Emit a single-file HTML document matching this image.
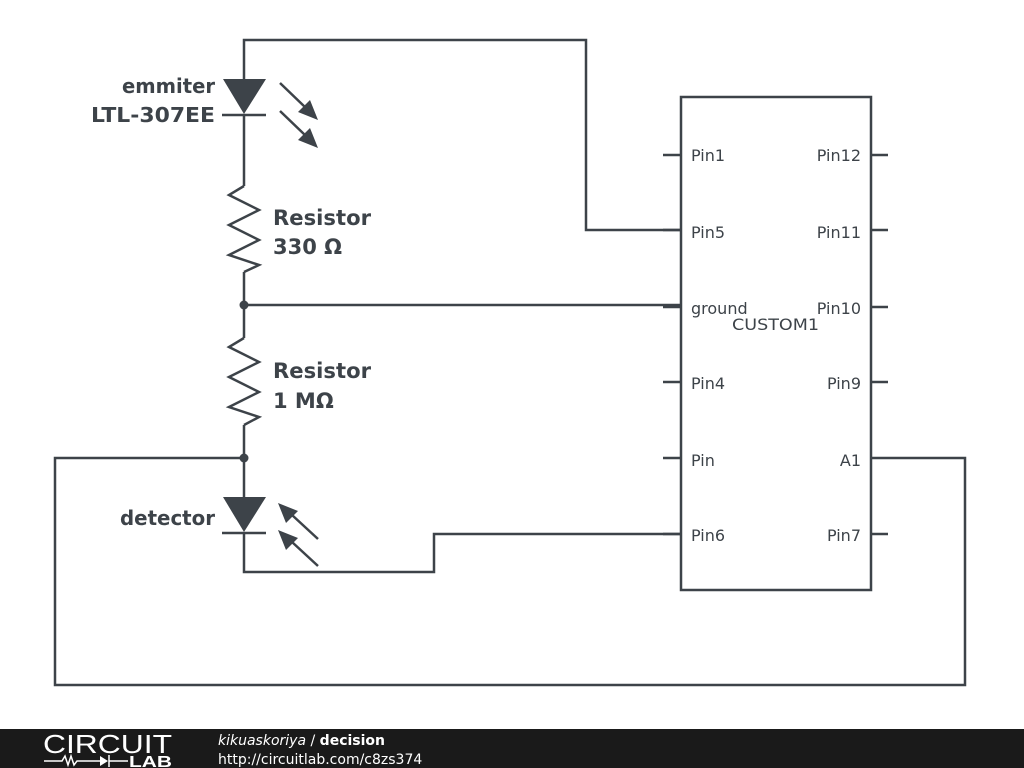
<!DOCTYPE html>
<html><head><style>
body{margin:0;width:1024px;height:768px;background:#fff;overflow:hidden;font-family:"DejaVu Sans",sans-serif}
</style></head><body>
<svg width="1024" height="768" style="position:absolute;left:0;top:0">
<g stroke="#3d4349" stroke-width="2.5" fill="none">
<polyline points="244,80 244,40 586,40 586,230 681,230"/>
<line x1="244" y1="115" x2="244" y2="186"/>
<polyline points="244,186 229,195 259,210 229,225 259,240 229,255 259,265 244,272"/>
<line x1="244" y1="272" x2="244" y2="338"/>
<line x1="244" y1="305" x2="681" y2="305"/>
<polyline points="244,338 229,347 259,362 229,377 259,392 229,407 259,417 244,425"/>
<line x1="244" y1="425" x2="244" y2="498"/>
<polyline points="244,458 55,458 55,685 965,685 965,458 888,458"/>
<polyline points="244,533 244,572 434,572 434,534 681,534"/>
<line x1="222" y1="115" x2="266" y2="115"/>
<line x1="222" y1="533" x2="266" y2="533"/>
<rect x="681" y="97" width="190" height="493"/>
<path d="M663 155h18M663 230h18M663 307h18M663 382h18M663 458h18M663 534h18M871 155h17M871 230h17M871 307h17M871 382h17M871 458h17M871 534h17"/>
<line x1="280" y1="83" x2="306" y2="108"/>
<line x1="280" y1="111" x2="306" y2="136"/>
<line x1="318" y1="539" x2="292" y2="515"/>
<line x1="318" y1="566" x2="292" y2="542"/>
</g>
<g fill="#3d4349">
<polygon points="223,79 266,79 244,114"/>
<polygon points="223,497 266,497 244,532"/>
<polygon points="318,120 298,112 310,100"/>
<polygon points="318,148 298,140 310,128"/>
<polygon points="278,503 298,511 286,523"/>
<polygon points="278,530 298,538 286,550"/>
<circle cx="244" cy="305" r="4.5"/>
<circle cx="244" cy="458" r="4.5"/>
</g>
<g fill="#3d4349" font-family="DejaVu Sans,sans-serif">
<g font-weight="bold" font-size="20" text-anchor="end">
<text x="215" y="93" textLength="93" lengthAdjust="spacingAndGlyphs">emmiter</text>
<text x="215" y="122" textLength="124" lengthAdjust="spacingAndGlyphs">LTL-307EE</text>
<text x="215" y="525" textLength="95" lengthAdjust="spacingAndGlyphs">detector</text>
</g>
<g font-weight="bold" font-size="21">
<text x="273" y="225" textLength="98" lengthAdjust="spacingAndGlyphs">Resistor</text>
<text x="273" y="254">330 Ω</text>
<text x="273" y="408">1 MΩ</text>
<text x="273" y="378" textLength="98" lengthAdjust="spacingAndGlyphs">Resistor</text>
</g>
<g font-size="16">
<text x="691" y="161">Pin1</text>
<text x="691" y="238">Pin5</text>
<text x="691" y="314">ground</text>
<text x="691" y="389">Pin4</text>
<text x="691" y="466">Pin</text>
<text x="691" y="541">Pin6</text>
<text x="732" y="330" textLength="87" lengthAdjust="spacingAndGlyphs">CUSTOM1</text>
</g>
<g font-size="16" text-anchor="end">
<text x="861" y="161">Pin12</text>
<text x="861" y="238">Pin11</text>
<text x="861" y="314">Pin10</text>
<text x="861" y="389">Pin9</text>
<text x="861" y="466">A1</text>
<text x="861" y="541">Pin7</text>
</g>
</g>
<rect x="0" y="729" width="1024" height="39" fill="#1a1a1a"/>
<text x="43" y="753" fill="#fff" font-size="26" font-family="Liberation Sans,sans-serif" textLength="129" lengthAdjust="spacingAndGlyphs">CIRCUIT</text>
<polyline points="44,761 62,761 65,756 68,765 71,756 74,765 77,761 100,761" stroke="#fff" stroke-width="1.5" fill="none"/>
<polygon points="100,756 100,766 108,761" fill="#fff"/>
<line x1="109" y1="755" x2="109" y2="767" stroke="#fff" stroke-width="1.5"/>
<line x1="109" y1="761" x2="128" y2="761" stroke="#fff" stroke-width="1.5"/>
<text x="129" y="767" fill="#fff" font-size="16" font-weight="bold" font-family="Liberation Sans,sans-serif" textLength="43" lengthAdjust="spacingAndGlyphs">LAB</text>
<text x="218" y="745" fill="#fff" font-size="14" font-family="DejaVu Sans,sans-serif"><tspan font-style="italic">kikuaskoriya</tspan> / <tspan font-weight="bold">decision</tspan></text>
<text x="218" y="764" fill="#fff" font-size="14" font-family="DejaVu Sans,sans-serif">http://circuitlab.com/c8zs374</text>
</svg>
</body></html>
